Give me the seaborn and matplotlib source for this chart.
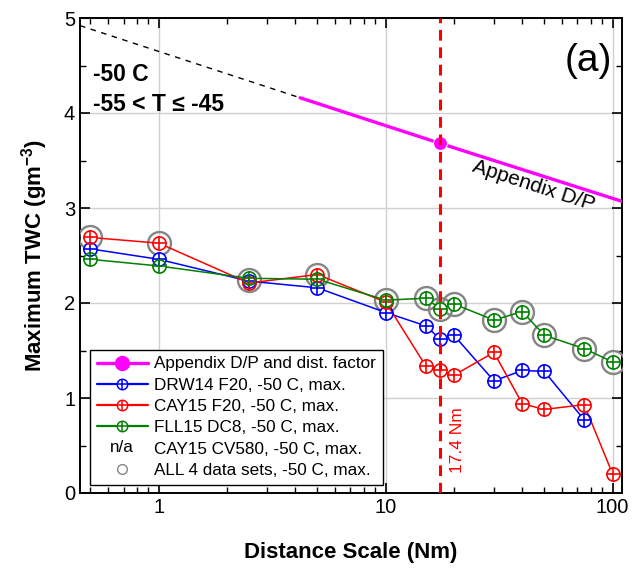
import numpy as np
import pandas as pd
import matplotlib
matplotlib.use("Agg")
import matplotlib.pyplot as plt
import seaborn as sns
from matplotlib.lines import Line2D
from matplotlib.text import Text
from matplotlib.legend_handler import HandlerBase, HandlerTuple
from matplotlib.ticker import FixedLocator, NullFormatter, LogLocator, MultipleLocator

# ---- data -------------------------------------------------------------
distance = [0.5, 1, 2.5, 5, 10, 15, 17.4, 20, 30, 40, 50, 75, 100]

drw14_f20 = [2.57, 2.46, 2.23, 2.16, 1.90, 1.76, 1.62, 1.66, 1.18, 1.29, 1.28, 0.77]
cay15_f20 = [2.69, 2.63, 2.21, 2.30, 2.01, 1.34, 1.29, 1.24, 1.48, 0.94, 0.88, 0.93, 0.20]
fll15_dc8 = [2.46, 2.39, 2.26, 2.25, 2.03, 2.05, 1.94, 1.99, 1.82, 1.91, 1.66, 1.52, 1.38]
all_max = [2.69, 2.63, 2.24, 2.30, 2.03, 2.05, 1.94, 1.99, 1.82, 1.91, 1.66, 1.52, 1.38]

appendix_dist = [4.2, 17.4, 110]
appendix_twc = [4.16, 3.68, 3.07]
extrap_dist = [0.45, 4.2]
extrap_twc = [4.92, 4.16]
ref_dist = 17.4
ref_twc = 3.68

BLUE, RED, GREEN, MAGENTA, GRAY = "#0000ff", "#ff0000", "#008000", "#ff00ff", "#858585"

# ---- style ------------------------------------------------------------
sns.set_theme(style="ticks")
plt.rcParams["font.family"] = ["Liberation Sans", "DejaVu Sans"]
plt.rcParams["mathtext.default"] = "regular"
plt.rcParams["text.color"] = "black"
plt.rcParams["axes.labelcolor"] = "black"
plt.rcParams["xtick.color"] = "black"
plt.rcParams["ytick.color"] = "black"
plt.rcParams["xtick.direction"] = "in"
plt.rcParams["ytick.direction"] = "in"

fig = plt.figure(figsize=(6.34, 5.72), dpi=100)
ax = fig.add_axes([80 / 634, 1 - 493 / 572, 542 / 634, 475 / 572])
ax.set_xscale("log")

# Appendix D/P curve and its extrapolation
sns.lineplot(x=extrap_dist, y=extrap_twc, ax=ax, color="black", lw=1.0,
             linestyle=(0, (4, 4)), zorder=3)
sns.lineplot(x=appendix_dist, y=appendix_twc, ax=ax, color=MAGENTA, lw=2.4, zorder=3)
sns.lineplot(x=[ref_dist], y=[ref_twc], ax=ax, color=MAGENTA, marker="o",
             markersize=10, linestyle="none", zorder=4)

# Maximum-of-all rings
sns.lineplot(x=distance, y=all_max, ax=ax, linestyle="none", marker="o",
             markersize=16.5, markerfacecolor="none", markeredgecolor=GRAY,
             markeredgewidth=1.7, zorder=5)

series = [(drw14_f20, BLUE), (cay15_f20, RED), (fll15_dc8, GREEN)]
# lines with white-filled markers so the lines stop at each symbol
for vals, col in series:
    xs = distance[:len(vals)]
    sns.lineplot(x=xs, y=vals, ax=ax, color=col, lw=1.1, marker="o",
                 markersize=9.5, markerfacecolor="white", markeredgecolor="white",
                 markeredgewidth=0, zorder=6)
# circled-plus symbols on top
for vals, col in series:
    xs = distance[:len(vals)]
    sns.lineplot(x=xs, y=vals, ax=ax, linestyle="none", marker="o",
                 markersize=9.5, markerfacecolor="none", markeredgecolor=col,
                 markeredgewidth=1.2, zorder=7)
    sns.lineplot(x=xs, y=vals, ax=ax, linestyle="none", marker="+",
                 markersize=9.5, markeredgecolor=col, markeredgewidth=1.2, zorder=7)

# reference distance
ax.axvline(ref_dist, color=RED, lw=2.2, linestyle=(0, (3.5, 2.2)), zorder=8)
ax.text(20.8, 0.56, "17.4 Nm", rotation=90, color=RED, fontsize=12.5,
        ha="center", va="center", zorder=9)

ax.text(45, 3.23, "Appendix D/P", rotation=-18, rotation_mode="anchor",
        ha="center", va="center", fontsize=15)
ax.text(0.024, 0.882, "-50 C", transform=ax.transAxes, fontsize=16.5,
        fontweight="bold", ha="left", va="center")
ax.text(0.024, 0.817, "-55 < T \u2264 -45", transform=ax.transAxes, fontsize=16.5,
        fontweight="bold", ha="left", va="center")
ax.text(0.982, 0.91, "(a)", transform=ax.transAxes, fontsize=28,
        ha="right", va="center")

# ---- axes -------------------------------------------------------------
ax.set_xlim(0.45, 110)
ax.set_ylim(0, 5)
ax.xaxis.set_major_locator(FixedLocator([1, 10, 100]))
ax.set_xticklabels(["1", "10", "100"])
ax.xaxis.set_minor_locator(LogLocator(base=10, subs=np.arange(2, 10)))
ax.xaxis.set_minor_formatter(NullFormatter())
ax.yaxis.set_major_locator(MultipleLocator(1))
ax.yaxis.set_minor_locator(MultipleLocator(0.5))
ax.tick_params(which="both", top=True, right=True, direction="in",
               labelsize=14.5, colors="black")
ax.tick_params(which="major", length=7, width=1.2)
ax.tick_params(which="minor", length=4, width=1.0)
ax.grid(True, which="major", color="#d0d0d0", lw=1.0, zorder=0)
ax.set_axisbelow(True)
for sp in ax.spines.values():
    sp.set_color("black")
    sp.set_linewidth(1.4)

ax.set_xlabel("Distance Scale (Nm)", fontsize=16, fontweight="bold", labelpad=18)
ax.set_ylabel("Maximum TWC (gm$^{-3}$)", fontsize=16, fontweight="bold", labelpad=10)


# ---- legend -----------------------------------------------------------
class TextHandle:
    def __init__(self, text):
        self.text = text


class HandlerTextHandle(HandlerBase):
    def create_artists(self, legend, orig_handle, xdescent, ydescent, width,
                       height, fontsize, trans):
        t = Text(-xdescent + width / 2, -ydescent + height / 2, orig_handle.text,
                 ha="center", va="center", fontsize=fontsize, color="black",
                 fontfamily=["Liberation Sans", "DejaVu Sans"], transform=trans)
        return [t]


def circ_plus(col):
    return (Line2D([], [], color=col, lw=1.6, marker="o", markersize=7.5,
                   markerfacecolor="white", markeredgecolor=col, markeredgewidth=1.1),
            Line2D([], [], linestyle="none", marker="+", markersize=7.5,
                   markeredgecolor=col, markeredgewidth=1.1))


h_app = Line2D([], [], color=MAGENTA, lw=2.4, marker="o", markersize=10)
h_ring = Line2D([], [], linestyle="none", marker="o", markersize=7,
                markerfacecolor="none", markeredgecolor=GRAY, markeredgewidth=1.0)
handles = [h_app, circ_plus(BLUE), circ_plus(RED), circ_plus(GREEN),
           TextHandle("n/a"), h_ring]
labels = ["Appendix D/P and dist. factor", "DRW14 F20, -50 C, max.",
          "CAY15 F20, -50 C, max.", "FLL15 DC8, -50 C, max.",
          "CAY15 CV580, -50 C, max.", "ALL 4 data sets, -50 C, max."]
leg = ax.legend(handles, labels, loc="lower left", bbox_to_anchor=(0.018, 0.017),
                fontsize=12.3, frameon=True, fancybox=False, framealpha=1,
                edgecolor="black", handlelength=3.0, handletextpad=0.35,
                labelspacing=0.37, borderpad=0.4, borderaxespad=0,
                handler_map={TextHandle: HandlerTextHandle(),
                             tuple: HandlerTuple(ndivide=1, pad=0)})
leg.get_frame().set_linewidth(1.0)
leg.set_zorder(10)
for t in leg.get_texts():
    t.set_color("black")

fig.savefig("out.png", dpi=100)
